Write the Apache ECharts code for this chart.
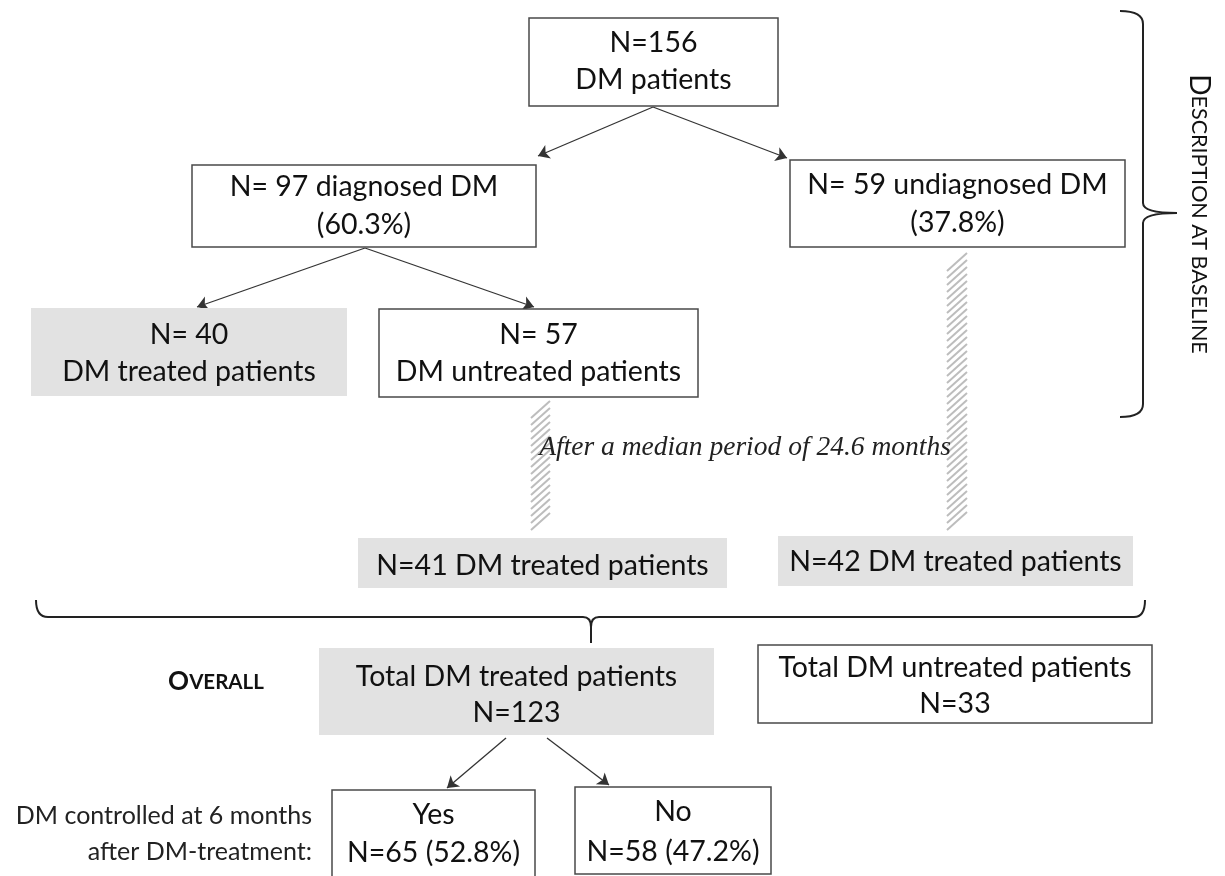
<!DOCTYPE html>
<html>
<head>
<meta charset="utf-8">
<title>DM patients flowchart</title>
<script src="https://cdn.jsdelivr.net/npm/echarts@6/dist/echarts.min.js"></script>
<style>
  html, body { margin: 0; padding: 0; background: #fff; }
  #chart { width: 1225px; height: 876px; }
</style>
</head>
<body>
<div id="chart"></div>
<script>
// ---- data ----
const nodeTitle = ['N=156', 'N= 97 diagnosed DM', 'N= 59 undiagnosed DM', 'N= 40', 'N= 57',
  'N=41 DM treated patients', 'N=42 DM treated patients', 'Total DM treated patients',
  'Total DM untreated patients', 'Yes', 'No']
const nodeSub = ['DM patients', '(60.3%)', '(37.8%)', 'DM treated patients', 'DM untreated patients',
  '', '', 'N=123', 'N=33', 'N=65 (52.8%)', 'N=58 (47.2%)']
const nodeTreated = [false, false, false, true, false, true, true, true, false, false, false]
const links = [[0, 1], [0, 2], [1, 3], [1, 4], [7, 9], [7, 10]]
const followUp = [[4, 5], [2, 6]]
const followUpText = 'After a median period of 24.6 months'
const baselineLabel = ['D', 'ESCRIPTION AT BASELINE']
const overallLabel = ['O', 'VERALL']
const controlLabel = ['DM controlled at 6 months', 'after DM-treatment:']

// ---- layout (pixel space of the hidden axes) ----
const boxRect = [
  [529, 18, 778, 106], [192, 165, 536, 247], [790, 160, 1125, 247],
  [31, 308, 347, 396], [379, 309, 698, 397],
  [358, 538, 727, 588], [778, 536, 1133, 586],
  [319, 648, 714, 735], [758, 645, 1152, 723],
  [332, 790, 535, 884], [575, 787, 771, 874]
]
const textY = [
  [43, 80], [187, 225], [185, 223], [335, 372], [335, 372],
  [566, 0], [562, 0], [677, 713], [668, 704], [815, 853], [812, 852]
]
const linkFrom = [[653, 107], [653, 107], [365, 248], [365, 248], [506, 738], [547, 738]]
const linkTo = [[538, 156], [787, 158], [197, 307], [534, 307], [447, 788], [609, 785]]
const hatchRect = [[531, 401, 550, 533], [947, 253, 967, 533]]
const bracePaths = [
  'M1120,11 Q1143,11 1143,24 L1143,203 Q1143,213 1177,213 M1177,213 Q1143,213 1143,223 L1143,404 Q1143,417 1120,417',
  'M36,600 Q36,617 48,617 L583,617 Q591,617 591,627 L591,643 M591,627 Q591,617 599,617 L1134,617 Q1145,617 1145,600'
]

const FONT = 'Lato, "Open Sans", sans-serif'
const chart = echarts.init(document.getElementById('chart'))

function renderBox(params, api) {
  const i = api.value(0)
  const r = boxRect[i]
  const p0 = api.coord([r[0], r[1]])
  const p1 = api.coord([r[2], r[3]])
  const cx = (p0[0] + p1[0]) / 2
  const children = [{
    type: 'rect',
    shape: { x: p0[0], y: p0[1], width: p1[0] - p0[0], height: p1[1] - p0[1] },
    style: nodeTreated[i]
      ? { fill: '#e2e2e2', stroke: null }
      : { fill: '#fff', stroke: '#4a4a4a', lineWidth: 1.5 }
  }]
  const lines = [nodeTitle[i], nodeSub[i]]
  lines.forEach((t, k) => {
    if (!t) return
    children.push({
      type: 'text',
      style: {
        text: t, x: cx, y: api.coord([0, textY[i][k]])[1],
        align: 'center', verticalAlign: 'middle',
        fill: '#111', font: '28.5px ' + FONT
      }
    })
  })
  return { type: 'group', children }
}

function renderHatch(params, api) {
  const r = hatchRect[params.dataIndex]
  const p0 = api.coord([r[0], r[1]])
  const p1 = api.coord([r[2], r[3]])
  const w = p1[0] - p0[0]
  const rise = w * 0.9
  const children = []
  for (let y = p0[1] + rise; y <= p1[1]; y += 7) {
    children.push({
      type: 'line',
      shape: { x1: p0[0], y1: y, x2: p1[0], y2: y - rise },
      style: { stroke: '#bdbdbd', lineWidth: 2 }
    })
  }
  return { type: 'group', children }
}

function renderBrace(params, api) {
  return {
    type: 'path',
    shape: { pathData: bracePaths[params.dataIndex] },
    style: { fill: null, stroke: '#222', lineWidth: 2 }
  }
}

const option = {
  backgroundColor: '#fff',
  animation: false,
  grid: { left: 0, right: 0, top: 0, bottom: 0 },
  xAxis: { type: 'value', min: 0, max: 1225, show: false },
  yAxis: { type: 'value', min: 0, max: 876, inverse: true, show: false },
  graphic: [
    {
      type: 'text', silent: true, x: 1199, y: 214, rotation: -Math.PI / 2,
      style: {
        text: '{a|' + baselineLabel[0] + '}{b|' + baselineLabel[1] + '}',
        align: 'center', verticalAlign: 'middle', fill: '#111',
        rich: {
          a: { font: '28px ' + FONT, fill: '#111' },
          b: { font: '21.5px ' + FONT, fill: '#111' }
        }
      }
    },
    {
      type: 'text', silent: true, x: 216, y: 682,
      style: {
        text: '{a|' + overallLabel[0] + '}{b|' + overallLabel[1] + '}',
        align: 'center', verticalAlign: 'middle',
        rich: {
          a: { font: 'bold 26px ' + FONT, fill: '#111' },
          b: { font: 'bold 20.5px ' + FONT, fill: '#111' }
        }
      }
    },
    {
      type: 'text', silent: true, x: 312, y: 816,
      style: { text: controlLabel[0], align: 'right', verticalAlign: 'middle', fill: '#222', font: '25px ' + FONT }
    },
    {
      type: 'text', silent: true, x: 312, y: 852,
      style: { text: controlLabel[1], align: 'right', verticalAlign: 'middle', fill: '#222', font: '25px ' + FONT }
    },
    {
      type: 'text', silent: true, x: 745, y: 448, z: 10,
      style: { text: followUpText, align: 'center', verticalAlign: 'middle', fill: '#222', font: 'italic 27.5px "Liberation Serif", "DejaVu Serif", serif' }
    }
  ],
  series: [
    {
      type: 'custom',
      name: 'brackets',
      renderItem: renderBrace,
      data: bracePaths.map((p, i) => [i]),
      silent: true,
      z: 1
    },
    {
      type: 'custom',
      name: 'follow-up',
      renderItem: renderHatch,
      data: followUp.map((f, i) => [i]),
      silent: true,
      z: 1
    },
    {
      type: 'lines',
      coordinateSystem: 'cartesian2d',
      silent: true,
      symbol: ['none', 'arrow'],
      symbolSize: 11,
      lineStyle: { color: '#333', width: 1.3, opacity: 1 },
      data: links.map((l, k) => ({ coords: [linkFrom[k], linkTo[k]] })),
      z: 2
    },
    {
      type: 'custom',
      name: 'boxes',
      renderItem: renderBox,
      data: nodeTitle.map((t, i) => [i]),
      silent: true,
      z: 3
    }
  ]
}

chart.setOption(option)

window.addEventListener('resize', () => {
  chart && chart.resize()
})
</script>
</body>
</html>
